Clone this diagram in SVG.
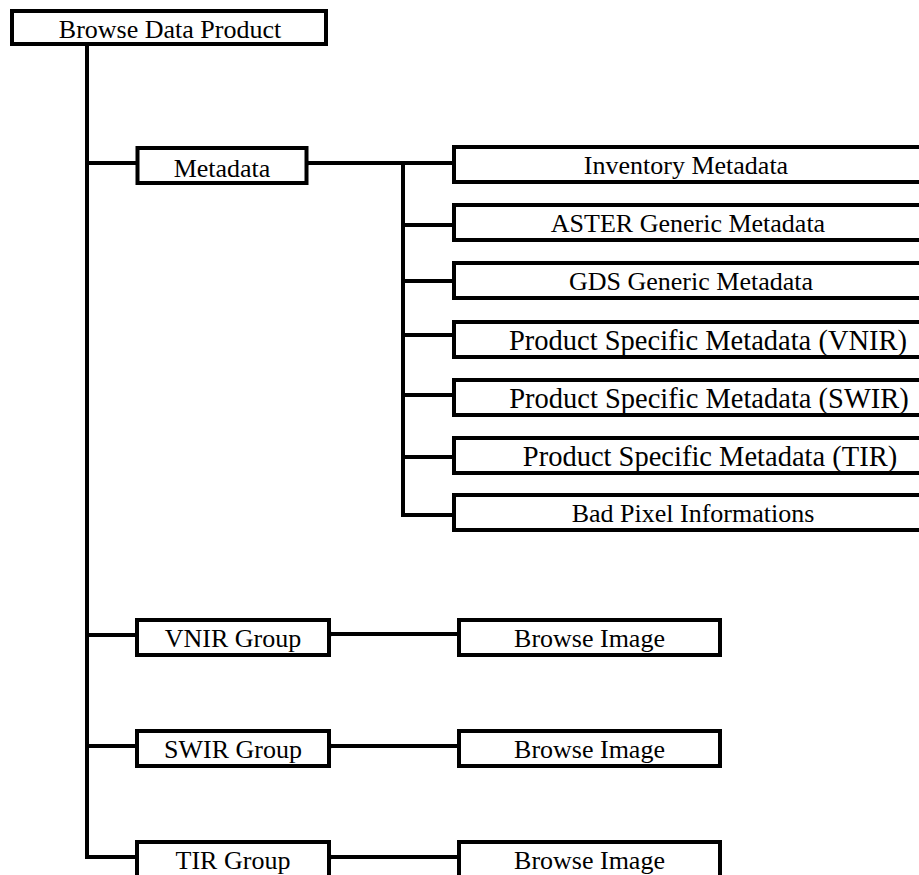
<svg xmlns="http://www.w3.org/2000/svg" width="919" height="875" viewBox="0 0 919 875">
<style>
.box{fill:#fff;stroke:#000;stroke-width:4}
.lbl{font-family:"Liberation Serif","Times New Roman",serif;font-size:26px;fill:#000;text-anchor:middle}
.big{font-size:28.5px}
.ln{stroke:#000;stroke-width:4;fill:none}
.dot{fill:#000}
</style>
<rect width="919" height="875" fill="#fff"/>
<g id="connectors">
<path class="ln" d="M87,44 V857"/>
<path class="ln" d="M85,163 H138"/>
<path class="ln" d="M85,635 H138"/>
<path class="ln" d="M85,746 H138"/>
<path class="ln" d="M85,857 H138"/>
<path class="ln" d="M306,163 H454"/>
<path class="ln" d="M403,161 V517"/>
<path class="ln" d="M401,225 H454"/>
<path class="ln" d="M401,281 H454"/>
<path class="ln" d="M401,335 H454"/>
<path class="ln" d="M401,395 H454"/>
<path class="ln" d="M401,457 H454"/>
<path class="ln" d="M401,515 H454"/>
<path class="ln" d="M329,634 H459"/>
<path class="ln" d="M329,746 H459"/>
<path class="ln" d="M329,857 H459"/>
<circle class="dot" cx="307" cy="163" r="2.5"/>
<circle class="dot" cx="330" cy="634" r="2.5"/>
<circle class="dot" cx="330" cy="746" r="2.5"/>
<circle class="dot" cx="330" cy="857" r="2.5"/>
</g>
<g id="browse-data-product"><rect class="box" x="12" y="11" width="314" height="33"/><text class="lbl" x="170" y="38">Browse Data Product</text></g>
<g id="metadata"><rect class="box" x="137.5" y="148" width="169" height="35"/><text class="lbl" x="222" y="177">Metadata</text></g>
<g id="inventory-metadata"><rect class="box" x="454" y="147" width="500" height="35"/><text class="lbl" x="686" y="174">Inventory Metadata</text></g>
<g id="aster-generic-metadata"><rect class="box" x="454" y="205" width="500" height="35"/><text class="lbl" x="688" y="232">ASTER Generic Metadata</text></g>
<g id="gds-generic-metadata"><rect class="box" x="454" y="263" width="500" height="35"/><text class="lbl" x="691" y="290">GDS Generic Metadata</text></g>
<g id="psm-vnir"><rect class="box" x="454" y="322" width="500" height="35"/><text class="lbl big" x="708" y="350">Product Specific Metadata (VNIR)</text></g>
<g id="psm-swir"><rect class="box" x="454" y="380" width="500" height="35"/><text class="lbl big" x="709" y="408">Product Specific Metadata (SWIR)</text></g>
<g id="psm-tir"><rect class="box" x="454" y="438" width="500" height="35"/><text class="lbl big" x="710" y="466">Product Specific Metadata (TIR)</text></g>
<g id="bad-pixel"><rect class="box" x="454" y="495" width="500" height="35"/><text class="lbl" x="693" y="522">Bad Pixel Informations</text></g>
<g id="vnir-group"><rect class="box" x="137" y="620" width="192" height="35"/><text class="lbl" x="233" y="647">VNIR Group</text></g>
<g id="swir-group"><rect class="box" x="137" y="731" width="192" height="35"/><text class="lbl" x="233" y="758">SWIR Group</text></g>
<g id="tir-group"><rect class="box" x="137" y="842" width="192" height="35"/><text class="lbl" x="233" y="869">TIR Group</text></g>
<g id="browse-image-vnir"><rect class="box" x="459" y="620" width="261" height="35"/><text class="lbl" x="589.5" y="647">Browse Image</text></g>
<g id="browse-image-swir"><rect class="box" x="459" y="731" width="261" height="35"/><text class="lbl" x="589.5" y="758">Browse Image</text></g>
<g id="browse-image-tir"><rect class="box" x="459" y="842" width="261" height="35"/><text class="lbl" x="589.5" y="869">Browse Image</text></g>
</svg>
